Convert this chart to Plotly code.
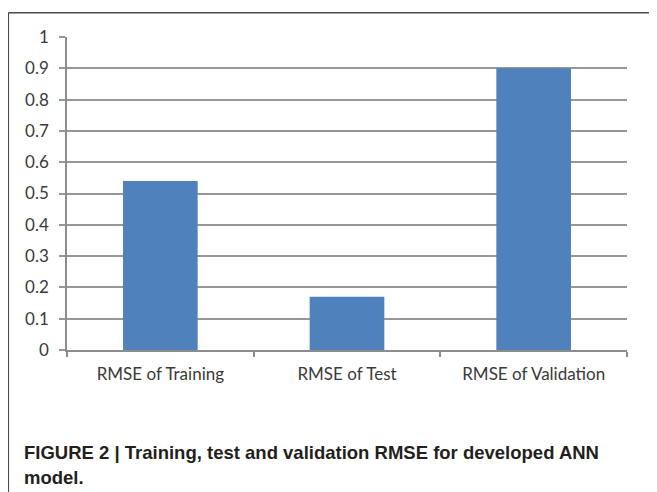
import plotly.graph_objects as go

categories = ["RMSE of Training", "RMSE of Test", "RMSE of Validation"]
rmse_values = [0.54, 0.17, 0.90]
y_ticks = [0, 0.1, 0.2, 0.3, 0.4, 0.5, 0.6, 0.7, 0.8, 0.9, 1]
y_tick_labels = ["0", "0.1", "0.2", "0.3", "0.4", "0.5", "0.6", "0.7", "0.8", "0.9", "1"]
caption_lines = ["<b>FIGURE 2 | Training, test and validation RMSE for developed ANN</b>", "<b>model.</b>"]

# page body has an 8px margin; work in figure pixels
W, H = 657, 492
L, R, T, B = 59, 38, 29, 150
pw, ph = W - L - R, H - T - B

def px(x):
    return (x - L) / pw

def py(y):
    return (H - B - y) / ph

fig = go.Figure(go.Bar(x=categories, y=rmse_values, marker=dict(color="#4F81BD", line=dict(width=0)),
                       hoverinfo="x+y"))

cap_font = dict(family="'Liberation Sans', Arial, sans-serif", size=18.5, color="#231f20")

fig.update_layout(
    width=W, height=H,
    margin=dict(l=L, r=R, t=T, b=B, autoexpand=False),
    paper_bgcolor="white", plot_bgcolor="white",
    bargap=0.6,
    showlegend=False,
    font=dict(family="Lato, 'Open Sans', sans-serif", size=17, color="#3a3a3a"),
    xaxis=dict(showgrid=False, showline=True, linecolor="#8c8c8c", linewidth=1.5,
               ticks="outside", tickson="boundaries", ticklen=5, tickcolor="#8c8c8c", tickwidth=1.5,
               ticklabelstandoff=8, automargin=False,
               tickfont=dict(size=17, color="#3a3a3a"), zeroline=False),
    yaxis=dict(range=[0, 1], tickvals=y_ticks, ticktext=y_tick_labels, showgrid=True,
               gridcolor="#969696", gridwidth=1.5, showline=True, linecolor="#8c8c8c", linewidth=1.5,
               ticks="outside", ticklen=6, tickcolor="#969696", tickwidth=1.5,
               ticklabelstandoff=7, automargin=False,
               tickfont=dict(size=17, color="#3a3a3a"), zeroline=False),
    shapes=[
        dict(type="line", xref="paper", yref="paper", x0=px(0.3), x1=px(660), y0=py(4.7), y1=py(4.7),
             line=dict(color="#4a4a4a", width=1.5)),
        dict(type="line", xref="paper", yref="paper", x0=px(0.3), x1=px(0.3), y0=py(4.7), y1=py(495),
             line=dict(color="#4a4a4a", width=1.5)),
    ],
    annotations=[
        dict(text=caption_lines[0], xref="paper", yref="paper", x=px(14), y=py(444), xanchor="left",
             yanchor="middle", showarrow=False, font=cap_font),
        dict(text=caption_lines[1], xref="paper", yref="paper", x=px(14), y=py(469), xanchor="left",
             yanchor="middle", showarrow=False, font=cap_font),
    ],
)

fig.write_html("out.html")
